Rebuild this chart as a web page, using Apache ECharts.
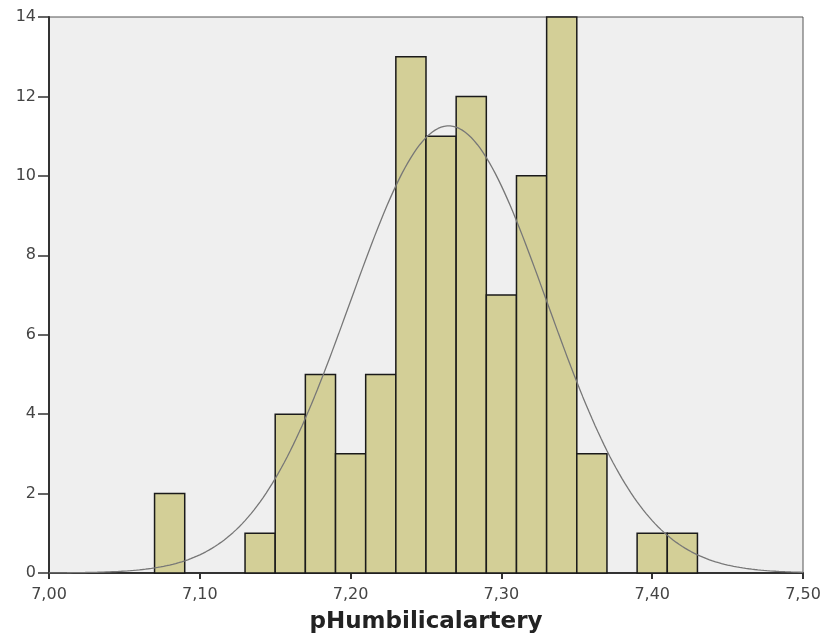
<!DOCTYPE html>
<html>
<head>
<meta charset="utf-8">
<script src="https://cdn.jsdelivr.net/npm/echarts@6/dist/echarts.min.js"></script>
<style>html,body{margin:0;padding:0;background:#fff}#c{width:824px;height:636px}</style>
</head>
<body>
<div id="c"></div>
<script>
// Histogram bins (lower edge of each 0.02-wide bin) and counts
const binStarts = [7.07, 7.09, 7.11, 7.13, 7.15, 7.17, 7.19, 7.21, 7.23, 7.25, 7.27, 7.29, 7.31, 7.33, 7.35, 7.37, 7.39, 7.41];
const counts    = [2,    0,    0,    1,    4,    5,    3,    5,    13,   11,   12,   7,    10,   14,   3,    0,    1,    1];
const binWidth = 0.02;
// Normal curve parameters
const normalMean = 7.265;
const normalSD = 0.0652;
const normalN = 92;
// Axis ticks
const xTicks = [7.00, 7.10, 7.20, 7.30, 7.40, 7.50];
const yTicks = [0, 2, 4, 6, 8, 10, 12, 14];

const barData = binStarts.map((s, i) => [s, s + binWidth, counts[i]]).filter(d => d[2] > 0);

const curve = [];
for (let k = 0; k <= 250; k++) {
  const x = 7.0 + k * 0.002;
  const z = (x - normalMean) / normalSD;
  curve.push([x, normalN * binWidth / (normalSD * Math.sqrt(2 * Math.PI)) * Math.exp(-0.5 * z * z)]);
}

const chart = echarts.init(document.getElementById('c'), null, {renderer: 'canvas'});
const font = 'DejaVu Sans';
chart.setOption({
  animation: false,
  grid: {left: 49, right: 21, top: 17, bottom: 63, outerBoundsMode: 'none', containLabel: false,
    show: true, backgroundColor: '#efefef', borderColor: '#555', borderWidth: 1},
  xAxis: {
    type: 'value', min: xTicks[0], max: xTicks[xTicks.length - 1], interval: 0.1,
    name: 'pHumbilicalartery', nameLocation: 'middle', nameGap: 38,
    nameTextStyle: {fontFamily: font, fontSize: 23, fontWeight: 'bold', color: '#222'},
    axisLine: {show: true, lineStyle: {color: '#333', width: 2}},
    axisTick: {show: true, length: 6, lineStyle: {color: '#333', width: 2}},
    axisLabel: {fontFamily: font, fontSize: 16, color: '#444', margin: 14,
      formatter: v => v.toFixed(2).replace('.', ',')},
    splitLine: {show: false}
  },
  yAxis: {
    type: 'value', min: yTicks[0], max: yTicks[yTicks.length - 1], interval: 2,
    axisLine: {show: true, lineStyle: {color: '#333', width: 2}},
    axisTick: {show: true, length: 11, lineStyle: {color: '#333', width: 1.5}},
    axisLabel: {fontFamily: font, fontSize: 16, color: '#444', margin: 13},
    splitLine: {show: false}
  },
  series: [
    {
      type: 'custom',
      data: barData,
      renderItem: function (params, api) {
        const p0 = api.coord([api.value(0), 0]);
        const p1 = api.coord([api.value(1), api.value(2)]);
        return {
          type: 'rect',
          shape: {x: p0[0], y: p1[1], width: p1[0] - p0[0], height: p0[1] - p1[1]},
          style: {fill: '#d3cf97', stroke: '#1a1a1a', lineWidth: 1.5}
        };
      },
      z: 2
    },
    {
      type: 'line', data: curve, showSymbol: false, smooth: false,
      lineStyle: {color: '#777', width: 1.3}, z: 3
    }
  ]
});
</script>
</body>
</html>
